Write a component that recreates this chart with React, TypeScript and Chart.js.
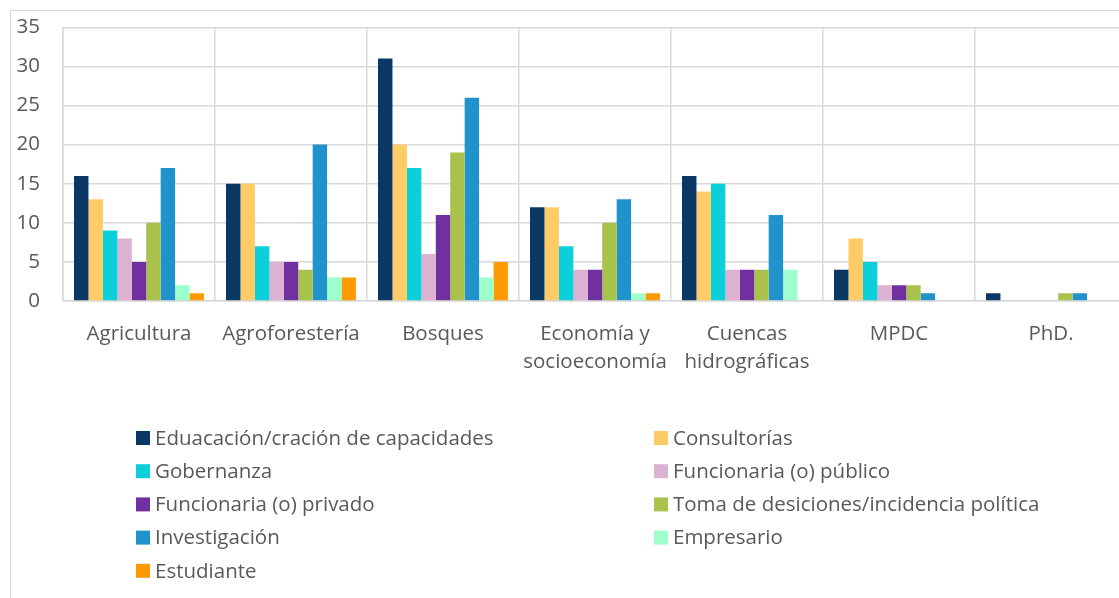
import React, { useEffect, useRef } from "react";
import { Chart, registerables } from "chart.js";

Chart.register(...registerables);

const categories: (string | string[])[] = [
  "Agricultura",
  "Agroforestería",
  "Bosques",
  ["Economía y", "socioeconomía"],
  ["Cuencas", "hidrográficas"],
  "MPDC",
  "PhD.",
];

const seriesNames = [
  "Eduacación/cración de capacidades",
  "Consultorías",
  "Gobernanza",
  "Funcionaria (o) público",
  "Funcionaria (o) privado",
  "Toma de desiciones/incidencia política",
  "Investigación",
  "Empresario",
  "Estudiante",
];

const seriesColors = [
  "#0a3764",
  "#ffcb66",
  "#0bcfd9",
  "#dbb2d1",
  "#7030a0",
  "#a9c24e",
  "#2092cc",
  "#9effcd",
  "#ff9a00",
];

const educacion = [16, 15, 31, 12, 16, 4, 1];
const consultorias = [13, 15, 20, 12, 14, 8, 0];
const gobernanza = [9, 7, 17, 7, 15, 5, 0];
const funcPublico = [8, 5, 6, 4, 4, 2, 0];
const funcPrivado = [5, 5, 11, 4, 4, 2, 0];
const tomaDecisiones = [10, 4, 19, 10, 4, 2, 1];
const investigacion = [17, 20, 26, 13, 11, 1, 1];
const empresario = [2, 3, 3, 1, 4, 0, 0];
const estudiante = [1, 3, 5, 1, 0, 0, 0];

const seriesValues = [
  educacion,
  consultorias,
  gobernanza,
  funcPublico,
  funcPrivado,
  tomaDecisiones,
  investigacion,
  empresario,
  estudiante,
];

const yTicks = [0, 5, 10, 15, 20, 25, 30, 35];

const FONT = "'Open Sans', Lato, sans-serif";
const FONT_SIZE = 20.5;
const TEXT_COLOR = "#595959";
const GRID = "#d9d9d9";
const SHIFT = 19;
const CANVAS_H = 620;

const legendPlugin = {
  id: "gridLegend",
  afterDraw(chart: any) {
    const ctx = chart.ctx;
    const datasets = chart.data.datasets;
    const colX = [125, 643];
    const startY = 427 + SHIFT;
    const rowH = 33.2;
    const box = 14;
    ctx.save();
    ctx.font = `${FONT_SIZE}px ${FONT}`;
    ctx.textBaseline = "middle";
    ctx.textAlign = "left";
    datasets.forEach((ds: any, i: number) => {
      const col = i % 2;
      const row = Math.floor(i / 2);
      const x = colX[col];
      const y = startY + row * rowH;
      ctx.fillStyle = ds.backgroundColor;
      ctx.fillRect(x, y - box / 2, box, box);
      ctx.fillStyle = TEXT_COLOR;
      ctx.fillText(ds.label, x + box + 5, y + 1);
    });
    ctx.restore();
  },
};

export default function App() {
  const canvasRef = useRef<HTMLCanvasElement | null>(null);

  useEffect(() => {
    if (!canvasRef.current) return;
    const chart = new Chart(canvasRef.current, {
      type: "bar",
      data: {
        labels: categories,
        datasets: seriesNames.map((name, i) => ({
          label: name,
          data: seriesValues[i],
          backgroundColor: seriesColors[i],
          borderWidth: 0,
          categoryPercentage: 0.855,
          barPercentage: 1.0,
        })),
      },
      options: {
        animation: false,
        responsive: false,
        maintainAspectRatio: false,
        layout: { padding: { top: 15, right: 14, bottom: CANVAS_H - 90 - 309, left: 0 } },
        plugins: {
          legend: { display: false },
          tooltip: { enabled: false },
        },
        scales: {
          x: {
            grid: { color: GRID, lineWidth: 1.5, drawTicks: false, offset: true },
            border: { color: GRID, width: 1.5 },
            ticks: {
              color: TEXT_COLOR,
              font: { family: FONT, size: FONT_SIZE, lineHeight: 1.37 },
              padding: 19,
              maxRotation: 0,
              autoSkip: false,
            },
            afterFit: (s: any) => {
              s.height = 90;
            },
          },
          y: {
            min: 0,
            max: 35,
            afterBuildTicks: (s: any) => {
              s.ticks = yTicks.map((v) => ({ value: v }));
            },
            grid: { color: GRID, lineWidth: 1.5, drawTicks: false },
            border: { color: GRID, width: 1.5 },
            ticks: {
              color: TEXT_COLOR,
              font: { family: FONT, size: FONT_SIZE },
              padding: 23,
            },
            afterFit: (s: any) => {
              s.width = 52;
            },
          },
        },
      },
      plugins: [legendPlugin],
    });
    return () => chart.destroy();
  }, []);

  return (
    <div
      style={{
        position: "fixed",
        left: 0,
        top: 0,
        width: 1119,
        height: 598,
        overflow: "hidden",
        background: "#ffffff",
      }}
    >
      <div
        style={{
          position: "absolute",
          left: 10,
          top: 10,
          width: 1130,
          height: 600,
          border: `1px solid ${GRID}`,
          background: "#ffffff",
          overflow: "hidden",
        }}
      >
        <canvas
          ref={canvasRef}
          width={1130}
          height={CANVAS_H}
          style={{ display: "block", position: "relative", top: -SHIFT }}
        />
      </div>
    </div>
  );
}
